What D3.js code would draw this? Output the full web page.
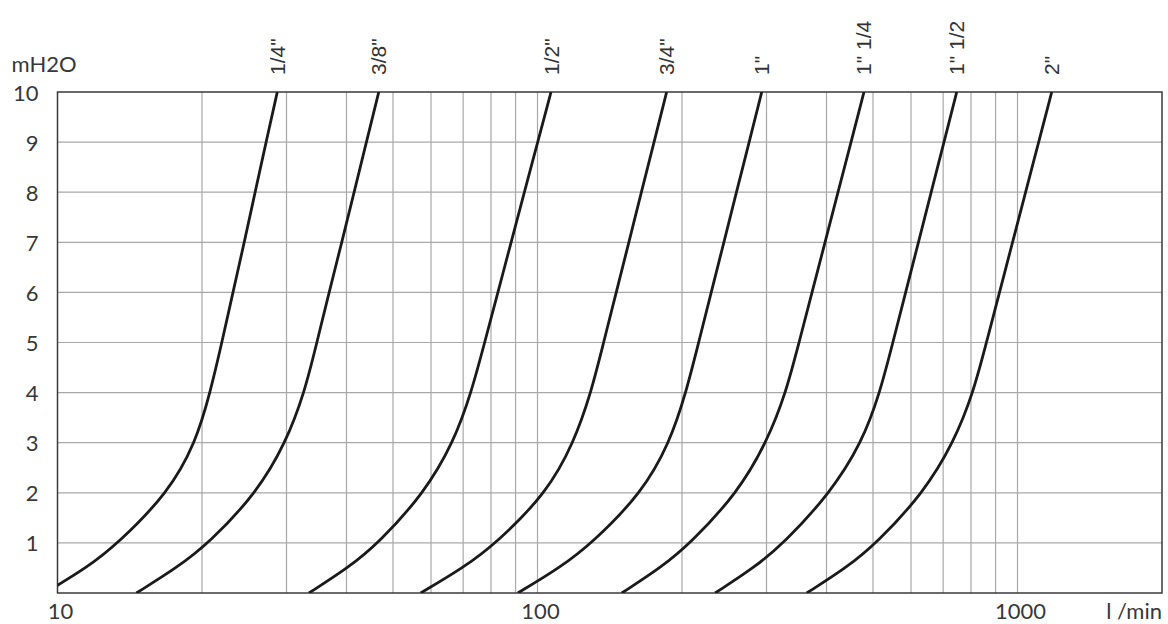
<!DOCTYPE html>
<html>
<head>
<meta charset="utf-8">
<script src="https://cdn.jsdelivr.net/npm/d3@7"></script>
<style>
  body { margin: 0; background: #fff; }
  .axis-label { font-family: Lato, "Open Sans", sans-serif; font-size: 22px; fill: #383838; }
  .size-label { font-family: "Liberation Sans", Arial, sans-serif; font-size: 21px; fill: #333; }
</style>
</head>
<body>
<svg id="chart"></svg>
<script>
// pressure loss (mH2O), one flow array (l/min) per pipe size
const pressure = [0, 0.5, 1, 2, 3, 4, 5, 6, 7, 8, 9, 10];
const sizes = ['1/4"', '3/8"', '1/2"', '3/4"', '1"', '1" 1/4', '1" 1/2', '2"'];
const flow14 = [9.4, 11.5, 13.4, 17.0, 19.4, 20.8, 22.0, 23.2, 24.5, 25.8, 27.2, 28.7];
const flow38 = [14.6, 17.7, 20.7, 26.0, 29.9, 32.7, 34.7, 36.8, 39.1, 41.5, 44.0, 46.7];
const flow12 = [33.4, 40.3, 46.7, 58.1, 66.8, 72.8, 77.6, 82.7, 88.1, 93.9, 100.1, 106.7];
const flow34 = [57.1, 70.0, 82.2, 104.5, 119.0, 129.3, 137.3, 145.9, 155.0, 164.6, 174.9, 185.8];
const flow1 = [91.0, 111.2, 130.1, 165.0, 188.5, 203.9, 216.6, 230.1, 244.5, 259.7, 276.0, 293.2];
const flow114 = [149.8, 180.4, 208.7, 261.0, 300.0, 329.4, 350.6, 373.2, 397.2, 422.7, 450.0, 478.8];
const flow112 = [234.4, 282.2, 326.6, 407.5, 474.0, 517.0, 549.9, 584.7, 621.7, 661.0, 702.8, 747.1];
const flow2 = [363.8, 439.6, 509.5, 637.0, 736.0, 809.0, 861.4, 917.4, 976.3, 1039.7, 1106.8, 1178.5];
const flows = [flow14, flow38, flow12, flow34, flow1, flow114, flow112, flow2];

const yTicks = [1, 2, 3, 4, 5, 6, 7, 8, 9, 10];
const xTickLabels = [10, 100, 1000];
const xGrid = [20, 30, 40, 50, 60, 70, 80, 90, 100, 200, 300, 400, 500, 600, 700, 800, 900, 1000];

class PressureChart {

    constructor(_config) {
        this.config = {
            parentElement: _config.parentElement,
            containerWidth: _config.containerWidth || 1168,
            containerHeight: _config.containerHeight || 624,
            margin: _config.margin || { top: 92, right: 6, bottom: 31, left: 57.5 }
        };
        this.initVis();
    }

    initVis() {
        let vis = this;

        vis.width = vis.config.containerWidth - vis.config.margin.left - vis.config.margin.right;
        vis.height = vis.config.containerHeight - vis.config.margin.top - vis.config.margin.bottom;

        vis.xScale = d3.scaleLog()
            .domain([10, 2000])
            .range([0, vis.width]);

        vis.yScale = d3.scaleLinear()
            .domain([0, 10])
            .range([vis.height, 0]);

        vis.svg = d3.select(vis.config.parentElement)
            .attr('width', vis.config.containerWidth)
            .attr('height', vis.config.containerHeight);

        vis.svg.append('defs').append('clipPath')
            .attr('id', 'plot-clip')
          .append('rect')
            .attr('width', vis.width)
            .attr('height', vis.height);

        vis.chart = vis.svg.append('g')
            .attr('transform', `translate(${vis.config.margin.left},${vis.config.margin.top})`);
    }

    renderVis() {
        let vis = this;

        // grid
        vis.chart.append('g').selectAll('line')
            .data(xGrid)
          .join('line')
            .attr('x1', d => vis.xScale(d)).attr('x2', d => vis.xScale(d))
            .attr('y1', 0).attr('y2', vis.height)
            .attr('stroke', '#a8a8a8').attr('stroke-width', 1.2);

        vis.chart.append('g').selectAll('line')
            .data(yTicks.slice(0, -1))
          .join('line')
            .attr('x1', 0).attr('x2', vis.width)
            .attr('y1', d => vis.yScale(d)).attr('y2', d => vis.yScale(d))
            .attr('stroke', '#a8a8a8').attr('stroke-width', 1.2);

        vis.chart.append('rect')
            .attr('width', vis.width)
            .attr('height', vis.height)
            .attr('fill', 'none')
            .attr('stroke', '#3a3a3a')
            .attr('stroke-width', 1.5);

        // curves (basis spline keeps the bends smooth, ends stay on the read points)
        const line = d3.line()
            .x(d => vis.xScale(d[0]))
            .y(d => vis.yScale(d[1]))
            .curve(d3.curveBasis);

        vis.chart.append('g')
            .attr('clip-path', 'url(#plot-clip)')
          .selectAll('path')
            .data(flows)
          .join('path')
            .attr('d', f => line(f.map((q, i) => [q, pressure[i]])))
            .attr('fill', 'none')
            .attr('stroke', '#1a1a1a')
            .attr('stroke-width', 2.8);

        // size labels above the curve tops
        vis.chart.selectAll('.size-label')
            .data(sizes)
          .join('text')
            .attr('class', 'size-label')
            .attr('transform', (d, i) => `translate(${vis.xScale(flows[i][flows[i].length - 1])},-17) rotate(-90)`)
            .attr('dominant-baseline', 'central')
            .text(d => d);

        // y labels
        vis.chart.selectAll('.y-label')
            .data(yTicks)
          .join('text')
            .attr('class', 'axis-label y-label')
            .attr('x', -19)
            .attr('y', d => vis.yScale(d))
            .attr('text-anchor', 'end')
            .attr('dominant-baseline', 'central')
            .text(d => d);

        // x labels
        vis.chart.selectAll('.x-label')
            .data(xTickLabels)
          .join('text')
            .attr('class', 'axis-label x-label')
            .attr('x', d => vis.xScale(d) + 3)
            .attr('y', vis.height + 17)
            .attr('text-anchor', 'middle')
            .attr('dominant-baseline', 'central')
            .text(d => d);

        vis.chart.append('text')
            .attr('class', 'axis-label')
            .attr('x', vis.width)
            .attr('y', vis.height + 17)
            .attr('text-anchor', 'end')
            .attr('dominant-baseline', 'central')
            .text('l /min');

        vis.chart.append('text')
            .attr('class', 'axis-label')
            .attr('x', -46)
            .attr('y', -29)
            .attr('dominant-baseline', 'central')
            .text('mH2O');
    }
}

const chart = new PressureChart({ parentElement: '#chart' });
chart.renderVis();
</script>
</body>
</html>
